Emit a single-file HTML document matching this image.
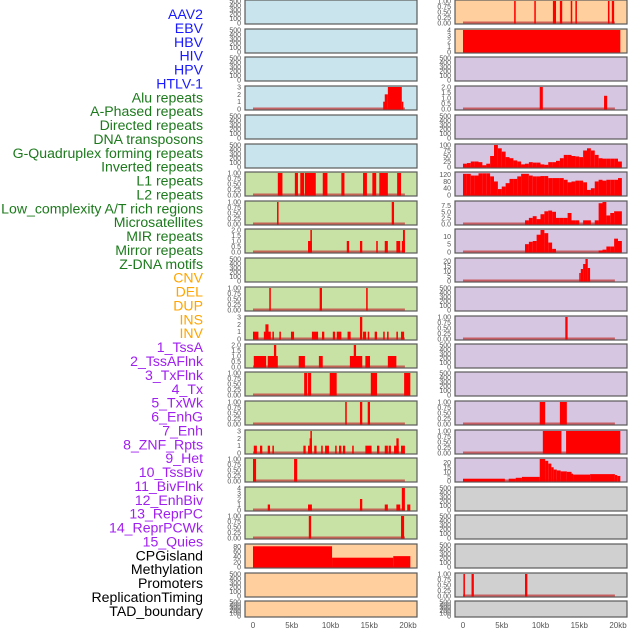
<!DOCTYPE html>
<html><head><meta charset="utf-8"><style>
html,body{margin:0;padding:0;background:#fff;width:630px;height:630px;overflow:hidden}
svg{display:block}
</style></head><body>
<svg id="chart" width="630" height="630" xmlns="http://www.w3.org/2000/svg" font-family="Liberation Sans, sans-serif"></svg>
<script>
const trackLabels=["AAV2","EBV","HBV","HIV","HPV","HTLV-1","Alu repeats","A-Phased repeats","Directed repeats","DNA transposons","G-Quadruplex forming repeats","Inverted repeats","L1 repeats","L2 repeats","Low_complexity A/T rich regions","Microsatellites","MIR repeats","Mirror repeats","Z-DNA motifs","CNV","DEL","DUP","INS","INV","1_TssA","2_TssAFlnk","3_TxFlnk","4_Tx","5_TxWk","6_EnhG","7_Enh","8_ZNF_Rpts","9_Het","10_TssBiv","11_BivFlnk","12_EnhBiv","13_ReprPC","14_ReprPCWk","15_Quies","CPGisland","Methylation","Promoters","ReplicationTiming","TAD_boundary"];
const labelColors=[].concat(Array(6).fill("#1a1aff"),Array(13).fill("#1c7a1c"),Array(5).fill("#ffa500"),Array(15).fill("#a020f0"),Array(5).fill("#000"));
const xTickValues=[0,5,10,15,20];
const xTickLabels=["0","5kb","10kb","15kb","20kb"];
const E={max:500,ticks:[0,100,200,300,400,500],dec:0};
const T1={max:1,ticks:[0,0.25,0.5,0.75,1],dec:2};
const leftScales=[E,E,E,{max:3,ticks:[0,1,2,3],dec:0},E,E,T1,T1,{max:2,ticks:[0,0.5,1,1.5,2],dec:1},E,T1,{max:3,ticks:[0,1,2,3],dec:0},{max:2,ticks:[0,0.5,1,1.5,2],dec:1},T1,T1,{max:3,ticks:[0,1,2,3],dec:0},T1,{max:4,ticks:[0,1,2,3,4],dec:0},T1,{max:85,ticks:[0,20,40,60,80],dec:0},E,E];
const leftBars=[[],[],[],
[[16.8,17.1,1],[17.0,17.4,2],[17.4,19.2,3],[19.2,19.4,1]],
[],[],
[[3.2,3.8,1],[5.4,5.8,1],[6.1,6.6,1],[6.7,8.1,1],[9.0,9.6,1],[11.4,11.8,1],[14.2,14.7,1],[15.4,15.9,1],[16.3,17.4,1],[18.6,19.1,1]],
[[3.1,3.3,1],[17.9,18.2,1]],
[[7.1,7.6,1],[7.4,7.6,2],[12.1,12.4,1],[13.8,14.1,1],[15.9,16.1,1],[17.0,17.4,1],[18.5,19.0,1],[19.2,19.6,1],[19.35,19.6,2]],
[],
[[2.1,2.3,1],[8.6,8.9,1],[14.6,14.8,1]],
[[0,0.7,1],[1.4,2.3,1],[1.6,2.0,2],[2.5,2.7,1],[3.4,3.6,1],[4.9,5.3,1],[7.6,8.4,1],[8.9,9.2,1],[10.3,10.6,1],[10.8,11.4,1],[12.2,12.6,1],[13.8,14.1,3],[14.2,14.6,1],[14.8,15.0,1],[15.7,16.0,1],[16.8,17.0,1],[17.3,17.5,1],[18.5,18.7,1],[19.1,19.5,1]],
[[0.1,1.7,1],[1.9,3.2,1],[2.7,3.0,2],[5.9,6.7,1],[8.5,9.0,1],[12.5,14.1,1],[13.0,13.3,2],[14.5,15.1,1],[17.4,18.5,1]],
[[6.6,7.0,1],[7.1,7.5,1],[9.9,10.8,1],[15.2,16.0,1],[19.5,20.3,1]],
[[11.9,12.1,1],[13.8,14.1,1],[14.8,15.1,1]],
[[0.1,0.5,1],[0.9,1.2,1],[1.9,2.2,1],[2.5,2.7,1],[6.5,6.8,1],[7.1,7.6,1],[7.3,7.6,2],[7.4,7.6,3],[7.9,8.2,1],[8.8,9.0,1],[9.3,9.8,1],[10.6,10.8,1],[11.1,11.4,1],[11.6,11.9,1],[12.8,13.0,1],[14.5,15.3,1],[16.0,16.3,1],[17.0,17.4,1],[17.5,17.8,1],[18.2,18.8,1],[18.5,18.8,2],[19.1,19.6,1]],
[[0,0.4,1],[5.3,5.7,1]],
[[1.9,2.2,1],[7.1,7.6,1],[13.8,14.1,2],[17.0,17.4,1],[18.5,19.0,1],[19.2,19.6,4],[19.9,20.3,1]],
[[7.2,7.5,1],[19.1,19.5,1]],
[[0,10.2,80],[10.2,18.1,36],[18.1,20.3,42]],
[],[]];
const rightScales=[T1,{max:4,ticks:[0,1,2,3,4],dec:0},E,{max:2,ticks:[0,0.5,1,1.5,2],dec:1},E,{max:100,ticks:[0,25,50,75,100],dec:0},{max:130,ticks:[0,40,80,120],dec:0},{max:9,ticks:[0,2.5,5,7.5],dec:1},{max:14,ticks:[0,5,10],dec:0},{max:22,ticks:[0,5,10,15,20],dec:0},E,T1,E,E,T1,T1,{max:24,ticks:[0,5,10,15,20],dec:0},E,E,E,T1,E];
const gQuadProfile=[15,18,25,25,22,8,15,50,100,85,70,45,40,30,25,12,15,22,20,20,12,10,22,22,28,40,55,55,50,48,45,75,85,75,55,40,38,38,38,38,25];
const invertedProfile=[125,125,115,115,128,128,128,110,80,35,50,70,95,95,110,125,125,115,110,110,112,112,100,100,100,100,90,75,80,85,85,75,30,40,80,90,85,90,90,90,100];
const lowComplexityProfile=[0,0,0,0,0,0,0,0,0,0,0,0,0,0,0,0,1.5,2.5,3.2,2.0,4,5.2,5.5,5,2.5,2.5,2.5,4.5,1.5,1.5,0,1.5,1.5,0,1.5,8.5,9.5,3.5,4.5,5.2,5.2];
const mirProfile=[0,0,0,0,0,0,0,0,0,0,0,0,0,0,0,0,5,6.5,7,11,14,12,6,2,0,0,0,0,0,0,0,0,0,0,0,1,1.5,3.5,3.5,8.5,7];
function profileBars(p){return p.map((v,i)=>[i*0.5,i*0.5+0.5,v]).filter(b=>b[2]>0);}
const rightBars=[
[[6.6,6.8,1],[9.2,9.3,1],[11.6,12.0,1],[12.5,12.8,1],[13.9,14.1,1],[14.5,14.7,1],[18.7,18.9,1],[19.2,19.5,1]],
[[0,20.3,4]],
[],
[[9.9,10.3,2],[18.2,18.6,1.2]],
[],
profileBars(gQuadProfile),
profileBars(invertedProfile),
profileBars(lowComplexityProfile),
profileBars(mirProfile),
[[15.0,15.2,8],[15.2,15.5,12],[15.5,15.8,17],[15.8,16.1,22],[16.1,16.4,13]],
[],
[[13.2,13.5,1]],
[],[],
[[9.9,10.6,1],[12.5,13.4,1]],
[[10.3,12.7,1],[13.3,20.3,1]],
[[0,5.4,2.5],[5.9,6.8,2.5],[6.8,7.6,3.5],[7.6,9.9,4.5],[9.9,10.6,24],[10.6,11.0,22],[11.0,11.4,19],[11.4,11.7,15],[11.7,12.1,12.5],[12.1,12.6,11.5],[12.6,13.4,10.5],[13.4,14.0,10],[14.0,14.2,8],[14.2,16.4,7],[16.4,19.6,7.5],[19.6,19.9,6.5],[19.9,20.3,5.5]],
[],[],[],
[[0.05,0.25,1],[1.1,1.4,1],[8.0,8.3,1]],
[]];
const leftColors=[].concat(Array(6).fill("#c9e4ec"),Array(13).fill("#c8e2a6"),Array(3).fill("#ffd09e"));
const rightColors=[].concat(Array(2).fill("#ffd09e"),Array(15).fill("#d6c6e2"),Array(5).fill("#d0d0d0"));
const panelTops=[0,29,57,86,115,144,172,201,229,258,287,316,344,372,401,430,458,487,515,544,573,601];

const svg=document.getElementById('chart');
const NS="http://www.w3.org/2000/svg";
function mk(tag,attrs,parent){const e=document.createElementNS(NS,tag);for(const k in attrs)e.setAttribute(k,attrs[k]);(parent||svg).appendChild(e);return e;}

trackLabels.forEach((t,i)=>{
  const e=mk('text',{x:203,y:14+i*13.88+5,'text-anchor':'end','font-size':14.1,fill:labelColors[i]});
  e.textContent=t;
  
  
});

function drawColumn(colName,px0,panelW,zeroX,scales,bars,colors){
  const xs=kb=>zeroX+kb*7.75;
  scales.forEach((sc,r)=>{
    const top=panelTops[r];
    const h=r===panelTops.length-1?16:24;
    const g=mk('g',{});
    
    
    mk('rect',{x:px0,y:top,width:panelW,height:h,fill:colors[r],stroke:'#5a5a5a','stroke-width':1.2},g);
    const y0=top+h-1, y1=top+1;
    const ys=v=>y0-(v/sc.max)*(y0-y1);
    sc.ticks.forEach(tv=>{
      const t=mk('text',{x:px0-4,y:ys(tv)+2.5,'text-anchor':'end','font-size':7,fill:'#555'},g);
      t.textContent=tv.toFixed(sc.dec);
      
      
    });
    const bl=bars[r];
    if(bl.length){
      const base=mk('line',{x1:xs(0),x2:xs(19.6),y1:y0-0.5,y2:y0-0.5,stroke:'#c23a3a','stroke-width':2,'stroke-opacity':0.75},g);
      
      
    }
    bl.forEach(b=>{
      const yv=ys(Math.min(b[2],sc.max));
      const w=Math.max(xs(b[1])-xs(b[0]),1.5);
      const rc=mk('rect',{x:xs(b[0]),y:yv,width:w,height:y0-yv+0.5,fill:'#ff0000'},g);
      
      
    });
  });
  xTickValues.forEach((v,i)=>{
    const t=mk('text',{x:xs(v),y:628,'text-anchor':'middle','font-size':8,fill:'#555'});
    t.textContent=xTickLabels[i];
    
    
  });
}
drawColumn('left',245,172,253,leftScales,leftBars,leftColors);
drawColumn('right',455,172,463,rightScales,rightBars,rightColors);
</script>
</body></html>
